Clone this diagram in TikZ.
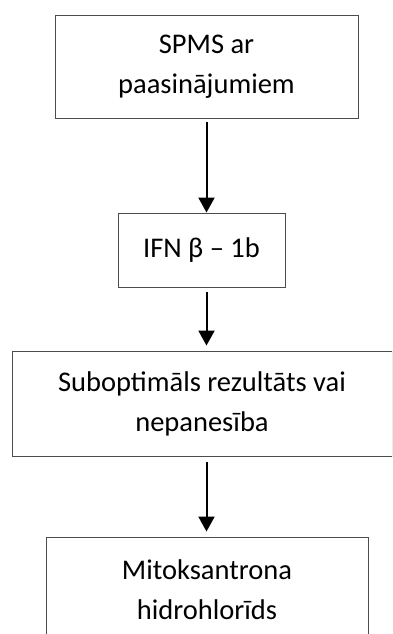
\documentclass[tikz,border=0pt]{standalone}
\usepackage{fontspec}
\setmainfont{Carlito}
\usepackage{tikz}
\usetikzlibrary{%
  arrows.meta,%
  positioning}

\begin{document}
\begin{tikzpicture}[x=1pt,y=-1pt,
  boite/.style={rectangle,draw=black!70,line width=0.9pt,inner sep=0pt,align=center,
    font=\fontsize{28.5}{40}\selectfont},
  fleche/.style={line width=2pt,-{Triangle[width=16pt,length=15pt]}}]
% cadre de l'image
\useasboundingbox (0,0) rectangle (392,634);
\clip (0,0) rectangle (392,634);
% description et nommage des noeuds
\node (SPMS) at (206.5,66.5) [boite,minimum width=303pt,minimum height=103pt] {SPMS ar\\paasinājumiem};
\node (IFN) at (201.5,250) [boite,minimum width=167pt,minimum height=74pt] {IFN β – 1b};
\node (Sub) at (202,403.5) [boite,minimum width=380pt,minimum height=105pt] {Suboptimāls rezultāts vai\\nepanesība};
\node (Mito) at (207,590) [boite,minimum width=322pt,minimum height=106pt] {Mitoksantrona\\hidrohlorīds};
% fleches
\draw[fleche,shorten <=4pt] (SPMS.south) -- (SPMS.south |- IFN.north);
\draw[fleche,shorten <=5pt,shorten >=5pt] (SPMS.south |- IFN.south) -- (SPMS.south |- Sub.north);
\draw[fleche,shorten <=6pt,shorten >=5pt] (SPMS.south |- Sub.south) -- (SPMS.south |- Mito.north);
\end{tikzpicture}
\end{document}
